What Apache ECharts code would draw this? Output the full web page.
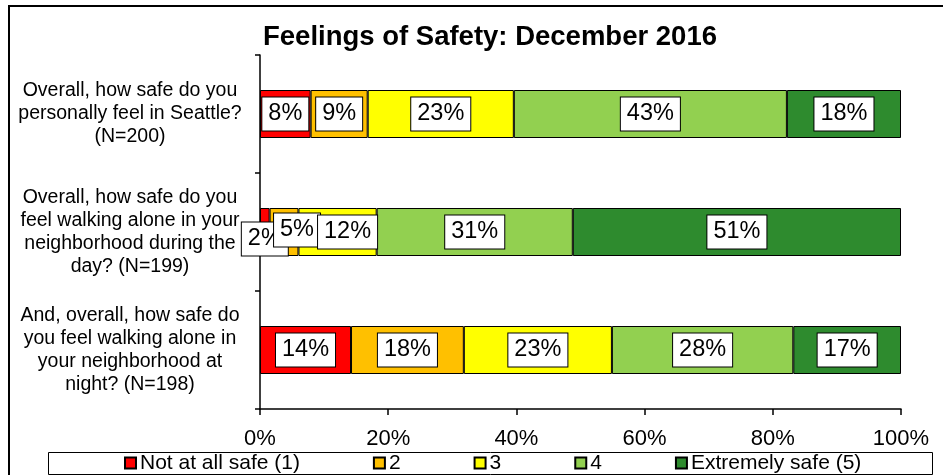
<!DOCTYPE html>
<html>
<head>
<meta charset="utf-8">
<script src="https://cdn.jsdelivr.net/npm/echarts@6/dist/echarts.min.js"></script>
<style>
html,body{margin:0;padding:0;background:#fff;}
#chart{width:943px;height:475px;}
</style>
</head>
<body>
<div id="chart"></div>
<script>
const titleText = 'Feelings of Safety: December 2016';
const categories = [
  'Overall, how safe do you\npersonally feel in Seattle?\n(N=200)',
  'Overall, how safe do you\nfeel walking alone in your\nneighborhood during the\nday? (N=199)',
  'And, overall, how safe do\nyou feel walking alone in\nyour neighborhood at\nnight? (N=198)'
];
const seriesNames = ['Not at all safe (1)', '2', '3', '4', 'Extremely safe (5)'];
const notAtAllSafe = [7.9, 1.5, 14.2];
const level2 = [8.9, 4.5, 17.6];
const level3 = [22.8, 12.2, 23.1];
const level4 = [42.6, 30.6, 28.3];
const extremelySafe = [17.8, 51.2, 16.8];
const xTicks = [0, 20, 40, 60, 80, 100];

const seriesValues = [notAtAllSafe, level2, level3, level4, extremelySafe];
const colors = ['#FF0000', '#FFC000', '#FFFF00', '#92D050', '#2E8B2E'];
// label nudges (Excel moved overlapping labels in the second bar)
const labelOffsets = {
  '0-1': [0, 7],
  '1-1': [13, -2],
  '2-1': [10, 0]
};
const FONT = "'Liberation Sans', Arial, sans-serif";

const series = seriesValues.map((vals, si) => ({
  name: seriesNames[si],
  type: 'bar',
  stack: 'total',
  barWidth: 48,
  itemStyle: { color: colors[si], borderColor: '#000', borderWidth: 1 },
  label: {
    show: true,
    position: 'inside',
    formatter: p => Math.round(p.value) + '%',
    color: '#000',
    fontFamily: FONT,
    fontSize: 23.5,
    lineHeight: 24,
    backgroundColor: '#fff',
    borderColor: '#000',
    borderWidth: 1,
    padding: [5, 6, 4, 6]
  },
  data: vals.map((v, ci) => {
    const off = labelOffsets[si + '-' + ci];
    return off ? { value: v, label: { offset: off } } : v;
  })
}));

const chart = echarts.init(document.getElementById('chart'), null, { renderer: 'canvas' });
chart.setOption({
  animation: false,
  backgroundColor: '#fff',
  textStyle: { fontFamily: FONT },
  title: {
    text: titleText,
    left: 490,
    textAlign: 'center',
    top: 23,
    padding: 0,
    textStyle: { fontFamily: FONT, fontWeight: 'bold', fontSize: 27.5, color: '#000' }
  },
  grid: { left: 260, right: 42, top: 55, bottom: 66, containLabel: false },
  xAxis: {
    type: 'value',
    min: xTicks[0],
    max: xTicks[xTicks.length - 1],
    interval: xTicks[1] - xTicks[0],
    axisLine: { show: true, lineStyle: { color: '#000', width: 1.5 } },
    axisTick: { show: true, length: 6, lineStyle: { color: '#000', width: 1.5 } },
    splitLine: { show: false },
    axisLabel: { formatter: '{value}%', color: '#000', fontFamily: FONT, fontSize: 22, margin: 19 }
  },
  yAxis: {
    type: 'category',
    inverse: true,
    data: categories,
    axisLine: { show: true, lineStyle: { color: '#000', width: 1.5 } },
    axisTick: { show: true, length: 5, alignWithLabel: false, lineStyle: { color: '#000', width: 1.5 } },
    axisLabel: { color: '#000', fontFamily: FONT, fontSize: 19.5, lineHeight: 23, align: 'center', margin: 130 }
  },
  legend: {
    data: seriesNames,
    left: 124,
    top: 452,
    padding: 0,
    itemGap: 73,
    itemWidth: 11,
    itemHeight: 11,
    icon: 'rect',
    textStyle: { color: '#000', fontFamily: FONT, fontSize: 21, lineHeight: 22, padding: [0, 0, 0, -1] }
  },
  graphic: [
    { type: 'rect', z: -10, silent: true, shape: { x: 9, y: 6, width: 1000, height: 1000 }, style: { fill: null, stroke: '#000', lineWidth: 2 } },
    { type: 'rect', z: -5, silent: true, shape: { x: 48.5, y: 452.5, width: 884, height: 22 }, style: { fill: '#fff', stroke: '#000', lineWidth: 1 } }
  ],
  series: series
});
</script>
</body>
</html>
